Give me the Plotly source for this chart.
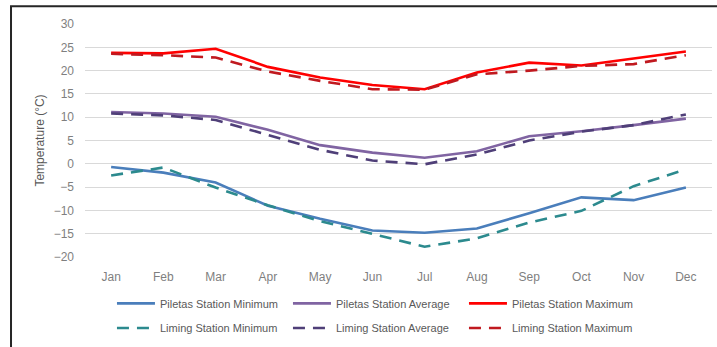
import plotly.graph_objects as go

months = ["Jan", "Feb", "Mar", "Apr", "May", "Jun", "Jul", "Aug", "Sep", "Oct", "Nov", "Dec"]

piletas_min = [-0.7, -1.9, -4.0, -9.0, -11.8, -14.3, -14.8, -13.9, -10.6, -7.2, -7.8, -5.1]
piletas_avg = [11.1, 10.8, 10.1, 7.3, 4.0, 2.4, 1.3, 2.7, 5.9, 7.0, 8.3, 9.7]
piletas_max = [23.8, 23.7, 24.7, 20.8, 18.5, 16.9, 16.0, 19.6, 21.7, 21.1, 22.6, 24.1]

liming_min = [-2.5, -0.8, -5.1, -8.9, -12.3, -15.0, -17.8, -16.0, -12.6, -10.1, -4.8, -1.2]
liming_avg = [10.8, 10.4, 9.4, 6.2, 3.0, 0.7, -0.1, 2.0, 5.0, 6.9, 8.3, 10.6]
liming_max = [23.6, 23.3, 22.8, 19.8, 17.8, 16.0, 15.9, 19.2, 20.0, 21.0, 21.4, 23.3]

y_ticks = [-20, -15, -10, -5, 0, 5, 10, 15, 20, 25, 30]

FONT = "Liberation Sans Narrow, Arial Narrow, Liberation Sans, Arial, sans-serif"
DASH = "12px,8px"

series = [
    ("Piletas Station Minimum", piletas_min, "#4A7EBB", "solid", "legend"),
    ("Piletas Station Average", piletas_avg, "#8064A2", "solid", "legend"),
    ("Piletas Station Maximum", piletas_max, "#FF0000", "solid", "legend"),
    ("Liming Station Minimum", liming_min, "#2C8A8E", DASH, "legend2"),
    ("Liming Station Average", liming_avg, "#4F3F78", DASH, "legend2"),
    ("Liming Station Maximum", liming_max, "#C0191F", DASH, "legend2"),
]

fig = go.Figure()
for name, vals, color, dash, leg in series:
    fig.add_trace(go.Scatter(
        x=months, y=vals, name=name, mode="lines",
        line=dict(color=color, width=2.6, dash=dash),
        legend=leg,
    ))

legend_common = dict(
    orientation="h", xanchor="left", yanchor="middle",
    font=dict(family=FONT, size=11, color="#595959"),
    bgcolor="rgba(0,0,0,0)", entrywidth=123, entrywidthmode="pixels",
    itemwidth=38,
)

fig.update_layout(
    width=717, height=347,
    margin=dict(l=85, r=5, t=24, b=87),
    paper_bgcolor="white", plot_bgcolor="white",
    font=dict(family=FONT, color="#7F7F7F"),
    legend=dict(x=0.043, y=-0.199, **legend_common),
    legend2=dict(x=0.043, y=-0.305, **legend_common),
    xaxis=dict(
        range=[-0.5, 11.5],
        showgrid=False, zeroline=False, showline=False, ticks="",
        tickfont=dict(family=FONT, size=12, color="#7F7F7F"),
        ticklabelstandoff=11,
    ),
    yaxis=dict(
        range=[-20, 30], tickvals=y_ticks,
        showgrid=True, gridcolor="#D9D9D9", gridwidth=1,
        zeroline=False, showline=False, ticks="",
        tickfont=dict(family=FONT, size=12, color="#7F7F7F"),
        ticklabelstandoff=10,
        title=dict(text="Temperature (°C)", font=dict(family=FONT, size=12, color="#595959"), standoff=6),
    ),
    shapes=[dict(
        type="rect", xref="paper", yref="paper",
        x0=-0.118, x1=1.05, y0=-0.45, y1=1.076,
        line=dict(color="#262626", width=2), fillcolor="rgba(0,0,0,0)", layer="below",
    )],
)

fig.write_html("out.html")
